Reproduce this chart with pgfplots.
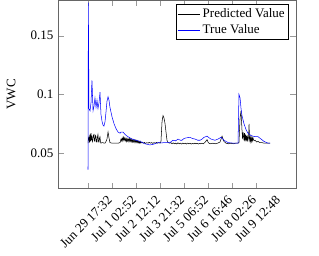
\documentclass[border=0pt]{standalone}
\usepackage{pgfplots}
\pgfplotsset{compat=1.18}
\usepackage{fontspec}
\setmainfont{Liberation Serif}
\begin{document}
\begin{tikzpicture}
\begin{axis}[
  scale only axis,
  width=183pt, height=144.6pt,
  xmin=-250, xmax=1733,
  ymin=0.02, ymax=0.18,
  xtick={0,200,400,600,800,1000,1200,1400},
  xticklabels={Jun 29 17:32,Jul 1 02:52,Jul 2 12:12,Jul 3 21:32,Jul 5 06:52,Jul 6 16:46,Jul 8 02:26,Jul 9 12:48},
  xticklabel style={rotate=45, anchor=north east, inner sep=1pt, xshift=7.8pt, yshift=-12.5pt},
  ytick={0.05,0.1,0.15},
  yticklabels={0.05,0.1,0.15},
  ylabel={VWC},
  y label style={at={(axis description cs:-0.197,0.5)}, anchor=center},
  legend style={at={(0.97,0.98)}, anchor=north east, legend cell align=left, inner sep=1pt},
  axis line style={black!60},
  tick style={black!40},
  /pgf/number format/assume math mode=true,
]
\addplot[black, line width=0.4pt] coordinates {
(0,0.0585)(4,0.063)(8,0.064)(12,0.059)(17,0.066)(21,0.060)(25,0.067)(29,0.061)(33,0.065)(37,0.060)(42,0.062)(46,0.0655)(50,0.066)(54,0.0605)(58,0.060)(62,0.065)(67,0.064)(71,0.0595)(75,0.0595)(79,0.064)(83,0.066)(88,0.0595)(92,0.0595)(96,0.063)(100,0.064)(104,0.0595)(108,0.0585)(117,0.059)(125,0.059)(133,0.0585)(142,0.0585)(150,0.060)(158,0.062)(167,0.068)(175,0.063)(183,0.059)(200,0.0585)(225,0.0585)(250,0.0585)(267,0.059)(275,0.062)
(280,0.0605)(285,0.063)(290,0.0605)(295,0.0635)(300,0.061)(305,0.063)(310,0.0605)(315,0.0625)(320,0.060)(325,0.0628)(330,0.0603)(335,0.062)(340,0.060)(345,0.0625)(350,0.0598)(355,0.062)(360,0.0598)(365,0.0618)(370,0.0595)(375,0.0615)(380,0.0595)(385,0.0612)(390,0.0592)(395,0.061)(400,0.059)(405,0.0608)(410,0.059)(415,0.0605)(420,0.0588)(425,0.0602)(430,0.0586)(435,0.060)(440,0.0585)(450,0.0595)(460,0.0585)(470,0.0592)(480,0.0583)(490,0.059)(500,0.0585)(510,0.0592)(520,0.0585)(530,0.059)(540,0.0583)(550,0.059)(560,0.0585)(570,0.0592)(580,0.0585)(590,0.059)(600,0.0585)(608,0.060)(617,0.077)(625,0.082)(633,0.080)(642,0.075)(650,0.068)(658,0.061)(667,0.059)
(680,0.0585)(690,0.059)(700,0.058)(710,0.0588)(720,0.058)(730,0.0585)(740,0.0578)(750,0.0588)(760,0.058)(770,0.0585)(780,0.0578)(790,0.0586)(800,0.058)(810,0.0585)(820,0.0578)(830,0.0586)(840,0.058)(850,0.0585)(860,0.0578)(870,0.0584)(880,0.058)(890,0.0585)(900,0.058)(910,0.0584)(920,0.0578)(930,0.0584)(940,0.058)(950,0.0585)(960,0.058)(975,0.0592)(992,0.0615)(1000,0.0595)(1008,0.0585)(1020,0.058)(1040,0.0585)(1060,0.058)(1080,0.0585)(1100,0.0595)(1117,0.0645)(1125,0.062)(1133,0.060)(1150,0.0585)(1170,0.058)(1190,0.0585)(1210,0.058)(1230,0.0585)(1250,0.0585)
(1258,0.059)(1267,0.080)(1275,0.086)(1283,0.070)(1288,0.062)(1292,0.068)(1300,0.061)(1304,0.067)(1308,0.060)(1313,0.066)(1317,0.061)(1321,0.065)(1325,0.060)(1329,0.064)(1333,0.061)(1338,0.064)(1342,0.075)(1346,0.061)(1350,0.063)(1354,0.060)(1358,0.064)(1363,0.060)(1367,0.063)(1371,0.0605)(1375,0.063)(1383,0.0605)(1392,0.061)(1405,0.0595)(1417,0.060)(1433,0.059)(1450,0.059)(1467,0.0585)(1483,0.0585)(1500,0.0585)(1517,0.0585)
};
\addlegendentry{Predicted Value}
\addplot[blue, line width=0.4pt] coordinates {
(0,0.036)(3,0.178)(8,0.088)(17,0.086)(25,0.093)(33,0.112)(42,0.086)(50,0.090)(58,0.097)(67,0.089)(75,0.095)(83,0.088)(92,0.093)(100,0.102)(108,0.083)(117,0.077)(125,0.074)(133,0.073)(142,0.077)(150,0.085)(158,0.094)(167,0.098)(175,0.095)(183,0.089)(200,0.081)(217,0.075)(233,0.071)(250,0.068)(267,0.067)(275,0.068)(292,0.068)(308,0.066)(333,0.064)(367,0.062)(400,0.061)(433,0.060)(475,0.058)(517,0.057)(540,0.0575)(558,0.058)(583,0.059)(610,0.0588)(642,0.059)(683,0.059)(708,0.061)(730,0.0605)(750,0.062)(770,0.061)(783,0.061)(800,0.0625)(817,0.063)(850,0.0635)(870,0.0625)(892,0.062)(915,0.061)(933,0.061)(950,0.062)(967,0.0635)(992,0.0645)(1010,0.063)(1025,0.062)(1058,0.061)(1083,0.062)(1108,0.0635)(1133,0.061)(1167,0.059)(1217,0.0585)(1250,0.0585)(1258,0.100)(1267,0.097)(1275,0.088)(1283,0.082)(1300,0.075)(1317,0.070)(1333,0.067)(1358,0.065)(1392,0.064)(1417,0.064)(1442,0.062)(1467,0.060)(1500,0.0585)(1517,0.0585)
};
\addlegendentry{True Value}
\end{axis}
\pgfresetboundingbox
\path ([shift={(-44.6pt,-51.6pt)}]current axis.south west) rectangle ([shift={(17.7pt,0.3pt)}]current axis.north east);
\end{tikzpicture}
\end{document}
